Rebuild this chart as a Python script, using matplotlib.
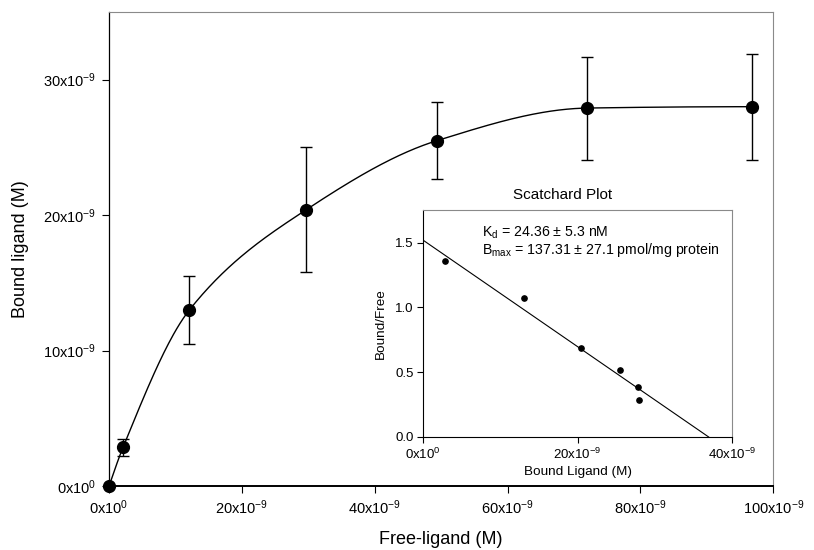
import numpy as np
import matplotlib
matplotlib.use("Agg")
import matplotlib.pyplot as plt

plt.rcParams["font.family"] = ["Liberation Sans", "DejaVu Sans"]
plt.rcParams["mathtext.fontset"] = "custom"
plt.rcParams["mathtext.rm"] = "Liberation Sans"
plt.rcParams["mathtext.it"] = "Liberation Sans:italic"

# saturation binding data, in nM
free = [0.0, 2.1, 12.1, 29.7, 49.4, 72.0, 96.8]
bound = [0.0, 2.85, 13.0, 20.4, 25.5, 27.9, 28.0]
bound_err = [0.0, 0.6, 2.5, 4.6, 2.85, 3.8, 3.9]

main_xticks = [0, 20, 40, 60, 80, 100]
main_xlabels = ["0x10$^{0}$", "20x10$^{-9}$", "40x10$^{-9}$", "60x10$^{-9}$",
                "80x10$^{-9}$", "100x10$^{-9}$"]
main_yticks = [0, 10, 20, 30]
main_ylabels = ["0x10$^{0}$", "10x10$^{-9}$", "20x10$^{-9}$", "30x10$^{-9}$"]

# scatchard fit
kd = 24.36
bmax_nm = 37.0
inset_xticks = [0, 20, 40]
inset_xlabels = ["0x10$^{0}$", "20x10$^{-9}$", "40x10$^{-9}$"]
inset_yticks = [0.0, 0.5, 1.0, 1.5]


def pchip(x, y, xs):
    # monotone cubic (Fritsch-Carlson) through the points
    x = np.asarray(x, float)
    y = np.asarray(y, float)
    h = np.diff(x)
    d = np.diff(y) / h
    n = len(x)
    m = np.zeros(n)
    for k in range(1, n - 1):
        if d[k - 1] * d[k] > 0:
            w1 = 2 * h[k] + h[k - 1]
            w2 = h[k] + 2 * h[k - 1]
            m[k] = (w1 + w2) / (w1 / d[k - 1] + w2 / d[k])

    def end_slope(h0, h1, d0, d1):
        s = ((2 * h0 + h1) * d0 - h0 * d1) / (h0 + h1)
        if np.sign(s) != np.sign(d0):
            s = 0.0
        elif np.sign(d0) != np.sign(d1) and abs(s) > abs(3 * d0):
            s = 3 * d0
        return s

    m[0] = end_slope(h[0], h[1], d[0], d[1])
    m[-1] = end_slope(h[-1], h[-2], d[-1], d[-2])
    idx = np.clip(np.searchsorted(x, xs) - 1, 0, n - 2)
    t = (xs - x[idx]) / h[idx]
    h00 = 2 * t**3 - 3 * t**2 + 1
    h10 = t**3 - 2 * t**2 + t
    h01 = -2 * t**3 + 3 * t**2
    h11 = t**3 - t**2
    return (h00 * y[idx] + h10 * h[idx] * m[idx] + h01 * y[idx + 1]
            + h11 * h[idx] * m[idx + 1])


fig = plt.figure(figsize=(8.14, 5.5), dpi=100)
ax = fig.add_axes([0.134, 0.1164, 0.816, 0.862])

xs = np.linspace(free[0], free[-1], 400)
ax.plot(xs, pchip(free, bound, xs), color="black", lw=1.0, zorder=2)
ax.errorbar(free, bound, yerr=bound_err, fmt="o", color="black", ms=8.5,
            ecolor="black", elinewidth=1.0, capsize=4, capthick=1.0,
            clip_on=False, zorder=3)

ax.set_xlim(0, 100)
ax.set_ylim(0, 35)
ax.set_xticks(main_xticks)
ax.set_xticklabels(main_xlabels, fontsize=10.5)
ax.set_yticks(main_yticks)
ax.set_yticklabels(main_ylabels, fontsize=10.5)
ax.tick_params(direction="out", length=5, width=0.8, pad=4)
ax.set_xlabel("Free-ligand (M)", fontsize=13, labelpad=10)
ax.set_ylabel("Bound ligand (M)", fontsize=13, labelpad=10)
for side in ["top", "right"]:
    ax.spines[side].set_color("#8a8a8a")
ax.spines["bottom"].set_linewidth(1.4)
ax.spines["left"].set_linewidth(0.9)

# Scatchard inset
sc_x = bound[1:]
sc_y = [b / f for b, f in zip(bound[1:], free[1:])]

ins = fig.add_axes([0.520, 0.2055, 0.379, 0.412])
line_x = np.array([0.0, bmax_nm])
ins.plot(line_x, (bmax_nm - line_x) / kd, color="black", lw=0.8)
ins.plot(sc_x, sc_y, "o", color="black", ms=3.8)
ins.set_xlim(0, 40)
ins.set_ylim(0, 1.75)
ins.set_xticks(inset_xticks)
ins.set_xticklabels(inset_xlabels, fontsize=9.5)
ins.set_yticks(inset_yticks)
ins.set_yticklabels(["%.1f" % v for v in inset_yticks], fontsize=9.5)
ins.tick_params(direction="out", length=4, width=0.8, pad=3)
ins.set_xlabel("Bound Ligand (M)", fontsize=9.7, labelpad=3)
ins.set_ylabel("Bound/Free", fontsize=9.7, labelpad=6)
ins.spines["right"].set_color("#8a8a8a")
ins.spines["top"].set_color("#8a8a8a")
ins.text(7.6, 1.58, "K$_\\mathrm{d}$ = 24.36 $\\pm$ 5.3 nM", fontsize=10.2,
         va="center", ha="left")
ins.text(7.6, 1.445, "B$_\\mathrm{max}$ = 137.31 $\\pm$ 27.1 pmol/mg protein",
         fontsize=10.2, va="center", ha="left")
fig.text(563 / 814, 1 - 195 / 550, "Scatchard Plot", fontsize=11,
         ha="center", va="center")

fig.savefig("out.png", dpi=100)
